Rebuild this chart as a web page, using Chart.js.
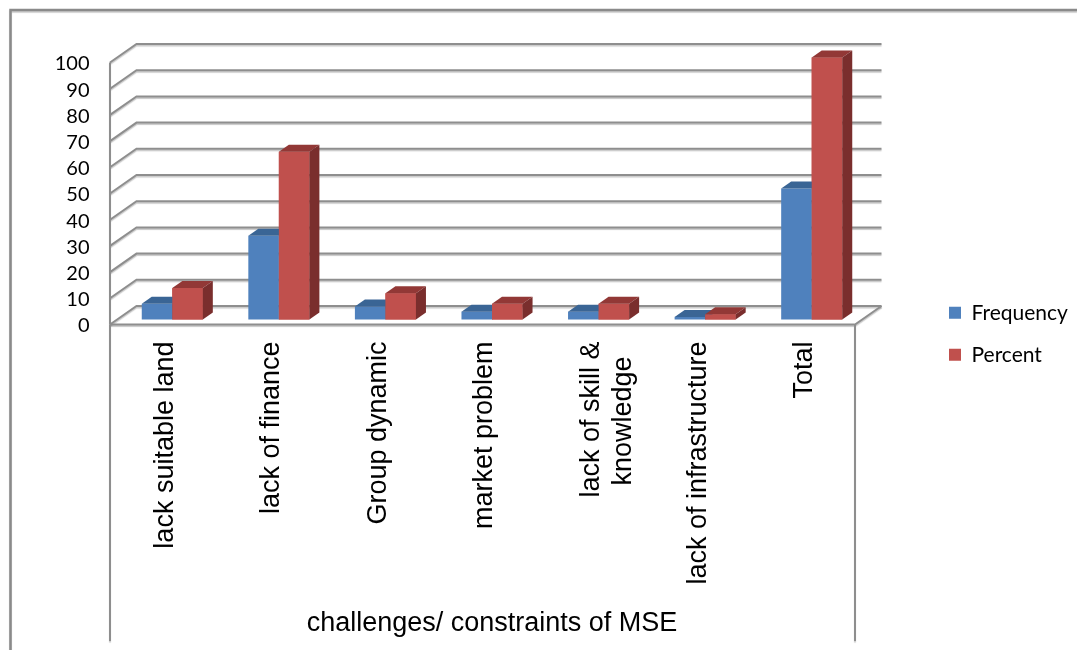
<!DOCTYPE html>
<html>
<head>
<meta charset="utf-8">
<title>challenges/ constraints of MSE</title>
<script src="https://cdn.jsdelivr.net/npm/chart.js@4/dist/chart.umd.min.js"></script>
<style>
  html, body { margin: 0; padding: 0; background: #ffffff; }
  #wrap { width: 1077px; height: 650px; }
</style>
</head>
<body>
<div id="wrap"><canvas id="chart" width="1077" height="650"></canvas></div>
<script>
// ---- data ----
const categories = [
  'lack suitable land',
  'lack of finance',
  'Group dynamic',
  'market problem',
  ['lack of skill &', 'knowledge  '],
  'lack of infrastructure',
  'Total'
];
const frequency = [6, 32, 5, 3, 3, 1, 50];
const percent = [12, 64, 10, 6, 6, 2, 100];
const valueTicks = { min: 0, max: 100, step: 10 };
const seriesNames = ['Frequency', 'Percent'];
const axisTitle = 'challenges/ constraints of MSE';

// ---- 3D look ----
const GRID_COLOR = '#8e8e8e';
const WALL_DEPTH = { x: 26.5, y: -18.5 };  // front edge -> back wall
const FLOOR_FRONT = { x: -9, y: 5 };       // floor front edge relative to the bar plane
const BAR_DEPTH = { x: 10, y: -7 };        // thickness of each column
const PLOT_RIGHT = 865;                    // right edge of the bar plane

// legend geometry
const LEGEND_FONT = { family: 'Lato', size: 21 };
const LEGEND_BOX = 12;
const LEGEND_PAD = 21;
const LEGEND_GAP = 63;                     // space between the floor and the legend column

// width the legend column will ask for, so the plot keeps its right edge
function legendWidth() {
  const c = document.createElement('canvas').getContext('2d');
  c.font = LEGEND_FONT.size + 'px ' + LEGEND_FONT.family;
  const w = Math.max(...seriesNames.map(s => c.measureText(s).width));
  return LEGEND_PAD + LEGEND_BOX + LEGEND_FONT.size / 2 + w + 10;
}

function strokeLine(ctx, pts, width, color) {
  ctx.save();
  ctx.strokeStyle = color;
  ctx.lineWidth = width;
  ctx.lineJoin = 'miter';
  ctx.shadowColor = 'rgba(0,0,0,0.22)';
  ctx.shadowOffsetY = 1.5;
  ctx.shadowBlur = 1;
  ctx.beginPath();
  ctx.moveTo(pts[0][0], pts[0][1]);
  for (let i = 1; i < pts.length; i++) ctx.lineTo(pts[i][0], pts[i][1]);
  ctx.stroke();
  ctx.restore();
}

function fillPoly(ctx, pts, color) {
  ctx.fillStyle = color;
  ctx.beginPath();
  ctx.moveTo(pts[0][0], pts[0][1]);
  for (let i = 1; i < pts.length; i++) ctx.lineTo(pts[i][0], pts[i][1]);
  ctx.closePath();
  ctx.fill();
}

function drawFaces(ctx, el, ds) {
  const x0 = el.x - el.width / 2;
  const x1 = el.x + el.width / 2;
  const yt = el.y;
  const yb = el.base;
  fillPoly(ctx, [
    [x0, yt], [x1, yt],
    [x1 + BAR_DEPTH.x, yt + BAR_DEPTH.y], [x0 + BAR_DEPTH.x, yt + BAR_DEPTH.y]
  ], ds.topColor);
  fillPoly(ctx, [
    [x1, yt], [x1 + BAR_DEPTH.x, yt + BAR_DEPTH.y],
    [x1 + BAR_DEPTH.x, yb + BAR_DEPTH.y], [x1, yb]
  ], ds.sideColor);
}

const box3d = {
  id: 'box3d',
  afterLayout(chart) {
    // move the legend column away from the floor and a little above the middle
    const lg = chart.legend;
    if (!lg) return;
    lg.left += LEGEND_GAP;
    lg.right += LEGEND_GAP;
    lg.top -= 20;
    lg.bottom -= 20;
  },
  beforeDraw(chart) {
    // outer chart border (top and left edges)
    strokeLine(chart.ctx, [[chart.width, 10], [10.5, 10], [10.5, chart.height]], 2.5, '#8a8a8a');
  },
  beforeDatasetsDraw(chart) {
    const ctx = chart.ctx;
    const a = chart.chartArea;
    const ys = chart.scales.y;
    const xs = chart.scales.x;
    const fl = a.left + FLOOR_FRONT.x;
    const fr = a.right + FLOOR_FRONT.x - 1;
    const front = v => ys.getPixelForValue(v) + FLOOR_FRONT.y;

    // side wall diagonals + back wall grid lines
    for (let v = valueTicks.min; v <= valueTicks.max; v += valueTicks.step) {
      const yf = front(v);
      strokeLine(ctx, [
        [fl, yf],
        [fl + WALL_DEPTH.x, yf + WALL_DEPTH.y],
        [fr + WALL_DEPTH.x, yf + WALL_DEPTH.y]
      ], 2, GRID_COLOR);
    }
    // value axis at the front edge
    strokeLine(ctx, [[fl, front(valueTicks.max)], [fl, front(0)]], 2, GRID_COLOR);
    // floor front and right edges
    const y0 = front(0);
    strokeLine(ctx, [[fl, y0], [fr, y0], [fr + WALL_DEPTH.x, y0 + WALL_DEPTH.y]], 2, GRID_COLOR);
    // category box under the floor
    const yb = xs.bottom - 9;
    strokeLine(ctx, [[fl, y0], [fl, yb]], 2, GRID_COLOR);
    strokeLine(ctx, [[fr, y0], [fr, yb]], 2, GRID_COLOR);
  },
  afterDatasetsDraw(chart) {
    // columns are finished back to front: Frequency tops, then Percent front, top and side
    const ctx = chart.ctx;
    const m0 = chart.getDatasetMeta(0);
    const m1 = chart.getDatasetMeta(1);
    const d0 = chart.data.datasets[0];
    const d1 = chart.data.datasets[1];
    ctx.save();
    m0.data.forEach((el, i) => {
      drawFaces(ctx, el, d0);
      const red = m1.data[i];
      red.draw(ctx, chart.chartArea);
      drawFaces(ctx, red, d1);
    });
    ctx.restore();
  }
};

new Chart(document.getElementById('chart'), {
  type: 'bar',
  data: {
    labels: categories,
    datasets: [
      {
        label: seriesNames[0],
        data: frequency,
        backgroundColor: '#4f81bd',
        topColor: '#3a6595',
        sideColor: '#345a87',
        borderWidth: 0
      },
      {
        label: seriesNames[1],
        data: percent,
        backgroundColor: '#c0504d',
        topColor: '#923836',
        sideColor: '#7a2e2d',
        borderWidth: 0
      }
    ]
  },
  options: {
    responsive: false,
    animation: false,
    devicePixelRatio: 1,
    clip: false,
    layout: { padding: { top: 57.5, left: 0, right: 1077 - PLOT_RIGHT - legendWidth(), bottom: 0 } },
    datasets: { bar: { categoryPercentage: 0.573, barPercentage: 1.0 } },
    plugins: {
      legend: {
        position: 'right',
        align: 'center',
        labels: {
          boxWidth: LEGEND_BOX,
          boxHeight: LEGEND_BOX,
          padding: LEGEND_PAD,
          color: '#000000',
          font: LEGEND_FONT
        }
      },
      tooltip: { enabled: false },
      title: { display: false }
    },
    scales: {
      x: {
        grid: { display: false, drawTicks: false, tickLength: 0 },
        border: { display: false },
        ticks: {
          autoSkip: false,
          minRotation: 90,
          maxRotation: 90,
          padding: 22,
          labelOffset: -7,
          color: '#000000',
          font: { family: 'Liberation Sans', size: 27, lineHeight: 1.2 }
        },
        title: {
          display: true,
          text: axisTitle,
          color: '#000000',
          font: { family: 'Liberation Sans', size: 27, lineHeight: 1.2 },
          padding: { top: 0, bottom: 10 }
        },
        afterFit(scale) { scale.height = 330.5; }
      },
      y: {
        min: valueTicks.min,
        max: valueTicks.max,
        grid: { display: false, drawTicks: false, tickLength: 0 },
        border: { display: false },
        ticks: {
          stepSize: valueTicks.step,
          autoSkip: false,
          padding: 29.5,
          labelOffset: 6.5,
          color: '#000000',
          font: { family: 'Lato', size: 20 }
        },
        afterFit(scale) { scale.width = 119; }
      }
    }
  },
  plugins: [box3d]
});
</script>
</body>
</html>
